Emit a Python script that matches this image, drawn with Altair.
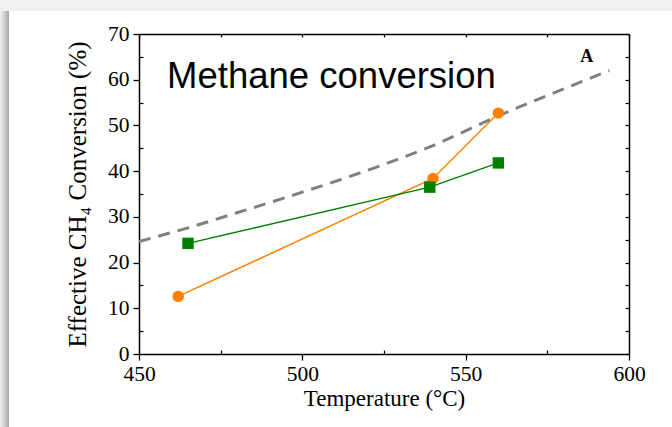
import altair as alt
import pandas as pd

# ---- data ----
orange_temp = [462, 540, 560]
orange_conv = [12.6, 38.4, 52.7]
green_temp = [465, 539, 560]
green_conv = [24.2, 36.5, 41.8]
eq_temp = [450, 465, 480, 500, 520, 540, 560, 580, 594]
eq_conv = [24.6, 27.6, 30.9, 35.4, 40.2, 45.6, 52.1, 58.0, 62.0]

x_major = [450, 500, 550, 600]
x_minor = [475, 525, 575]
x_top = [450, 475, 500, 525, 550, 575, 600]
y_major = [0, 10, 20, 30, 40, 50, 60, 70]
y_minor = [5, 15, 25, 35, 45, 55, 65]
y_right = [0, 5, 10, 15, 20, 25, 30, 35, 40, 45, 50, 55, 60, 65, 70]

title_text = ["Methane conversion"]
title_pos = [458.6, 58.1]
panel_text = ["A"]
panel_pos = [587.1, 63.8]

W, H = 490, 320
PAD = {"left": 139, "top": 34, "right": 43, "bottom": 73}

series = pd.DataFrame({
    "T": orange_temp + green_temp,
    "C": orange_conv + green_conv,
    "s": ["orange"] * 3 + ["green"] * 3,
})
eq = pd.DataFrame({"T": eq_temp, "C": eq_conv})
ann1 = pd.DataFrame({"T": [title_pos[0]], "C": [title_pos[1]], "t": title_text})
ann2 = pd.DataFrame({"T": [panel_pos[0]], "C": [panel_pos[1]], "t": panel_text})

xs = alt.Scale(domain=[450, 600], nice=False, zero=False)
ys = alt.Scale(domain=[0, 70], nice=False, zero=False)
col = alt.Scale(domain=["orange", "green"], range=["#FF8000", "#008000"])
shp = alt.Scale(domain=["orange", "green"], range=["circle", "square"])

SERIF = "Liberation Serif"
base_axis = dict(grid=False, domainColor="black", tickColor="black",
                 domainWidth=1.5, tickWidth=1.3, labelColor="black",
                 labelFont=SERIF, labelFontSize=21.5, titleFont=SERIF,
                 titleFontWeight="normal", titleColor="black",
                 labelFlush=False, labelOverlap=False)
plain_axis = dict(grid=False, domainColor="black", tickColor="black",
                  domainWidth=1.5, tickWidth=1.2, labels=False)

# background decoration (slide frame)
top_strip = alt.Chart(pd.DataFrame({"a": [0]})).mark_rect(color="#f0f0f0").encode(
    x=alt.value(-PAD["left"]), x2=alt.value(W + PAD["right"]),
    y=alt.value(-PAD["top"]), y2=alt.value(-PAD["top"] + 11))
left_strip = alt.Chart(pd.DataFrame({"a": [0]})).mark_rect(
    color=alt.LinearGradient(gradient="linear", x1=0, x2=1, y1=0, y2=0,
                             stops=[alt.GradientStop(offset=0, color="#f0f0f0"),
                                    alt.GradientStop(offset=0.5, color="#d0d0d0"),
                                    alt.GradientStop(offset=1, color="#a4a4a4")])
).encode(
    x=alt.value(-PAD["left"]), x2=alt.value(-PAD["left"] + 9),
    y=alt.value(-PAD["top"] + 11), y2=alt.value(H + PAD["bottom"]))

lines = alt.Chart(series).mark_line(strokeWidth=1.5).encode(
    x=alt.X("T:Q", scale=xs, title="Temperature (°C)",
            axis=alt.Axis(orient="bottom", values=x_major, tickSize=6, labelPadding=3,
                          titlePadding=3, titleFontSize=23, format="d", **base_axis)),
    y=alt.Y("C:Q", scale=ys, title="Effective CH₄ Conversion (%)",
            axis=alt.Axis(orient="left", values=y_major, tickSize=6, labelPadding=4,
                          titlePadding=17, titleFontSize=25, format="d", **base_axis)),
    color=alt.Color("s:N", scale=col, legend=None),
    detail="s:N",
)

points = alt.Chart(series).mark_point(filled=True, opacity=1, size=130).encode(
    x=alt.X("T:Q", scale=xs, title=None,
            axis=alt.Axis(orient="top", offset=-H, values=x_minor, tickSize=4,
                          domain=False, **plain_axis)),
    y=alt.Y("C:Q", scale=ys, title=None,
            axis=alt.Axis(orient="right", offset=-W, values=y_minor, tickSize=4,
                          domain=False, **plain_axis)),
    color=alt.Color("s:N", scale=col, legend=None),
    shape=alt.Shape("s:N", scale=shp, legend=None),
)

dashed = alt.Chart(eq).mark_line(color="#808080", strokeWidth=3, strokeDash=[12, 8],
                                 interpolate="monotone").encode(
    x=alt.X("T:Q", scale=xs, title=None,
            axis=alt.Axis(orient="bottom", offset=-H, values=x_top, tickSize=3,
                          **plain_axis)),
    y=alt.Y("C:Q", scale=ys, title=None,
            axis=alt.Axis(orient="left", offset=-W, values=y_right, tickSize=4,
                          **plain_axis)),
)

t1 = alt.Chart(ann1).mark_text(font="Liberation Sans", fontSize=36.5, align="left",
                               baseline="alphabetic", color="black").encode(
    x=alt.X("T:Q", scale=xs, axis=None), y=alt.Y("C:Q", scale=ys, axis=None), text="t:N")
t2 = alt.Chart(ann2).mark_text(font=SERIF, fontSize=18, fontWeight="bold", align="center",
                               baseline="alphabetic", color="black").encode(
    x=alt.X("T:Q", scale=xs, axis=None), y=alt.Y("C:Q", scale=ys, axis=None), text="t:N")

chart = alt.layer(top_strip, left_strip, dashed, lines, points, t1, t2).resolve_axis(
    x="independent", y="independent"
).properties(
    width=W, height=H, padding=PAD, background="white",
    autosize=alt.AutoSizeParams(type="none"),
).configure_view(stroke=None)

chart.save("out.html", embed_options={"renderer": "svg", "actions": False})
